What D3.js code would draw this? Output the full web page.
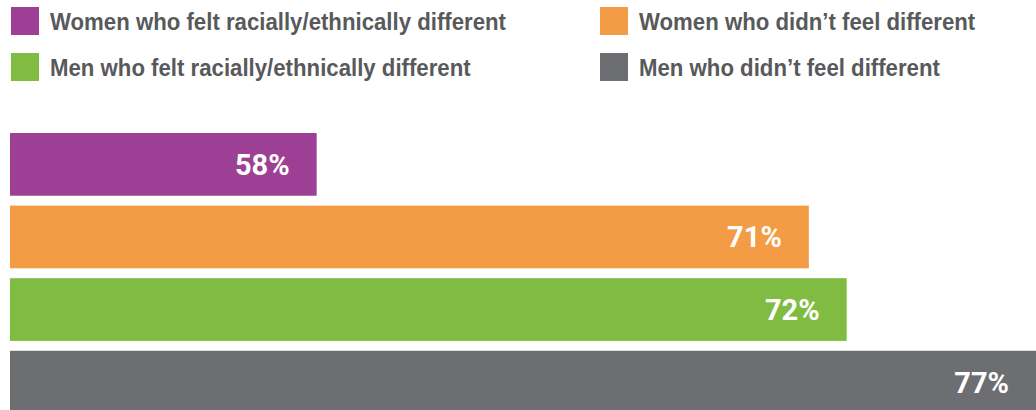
<!DOCTYPE html>
<html>
<head>
<meta charset="utf-8">
<script src="https://cdn.jsdelivr.net/npm/d3@7"></script>
<style>
  html, body { margin: 0; padding: 0; background: #fff; overflow: hidden; }
</style>
</head>
<body>
<div id="chart"></div>
<script>
// data
const groups = [
  "Women who felt racially/ethnically different",
  "Women who didn\u2019t feel different",
  "Men who felt racially/ethnically different",
  "Men who didn\u2019t feel different"
];
const values = [58, 71, 72, 77];
const colors = ["#9d3f94", "#f39c45", "#80bc41", "#6d6e71"];

const width = 1036;
const height = 410;

const svg = d3.select("#chart")
  .append("svg")
  .attr("width", width)
  .attr("height", height);

// scales - bars don't start at zero in the original, axis is cropped
const x = d3.scaleLinear()
  .domain([49.9, 77])
  .range([10, 1036]);

const y = d3.scaleBand()
  .domain(groups)
  .range([133, 413.5])
  .paddingInner(0.136)
  .paddingOuter(0);

// legend, two columns
const legendCols = [11, 600];
const legendRows = [7, 53];

const legend = svg.append("g").attr("class", "legend");
const item = legend.selectAll("g")
  .data(groups)
  .enter()
  .append("g")
  .attr("transform", (d, i) => `translate(${legendCols[i % 2]},${legendRows[Math.floor(i / 2)]})`);

item.append("rect")
  .attr("width", 28)
  .attr("height", 28)
  .attr("fill", (d, i) => colors[i]);

const legendText = item.append("text")
  .attr("x", 39)
  .attr("y", 23)
  .style("font-family", "'Liberation Sans', Arial, sans-serif")
  .style("font-weight", "bold")
  .style("font-size", "23.5px")
  .style("fill", "#58595b")
  .text(d => d);

// the original uses a condensed face, squeeze the text to match
const firstLen = legendText.node().getComputedTextLength();
const squeeze = 456 / firstLen;
legendText.each(function () {
  const len = this.getComputedTextLength();
  d3.select(this)
    .attr("textLength", len * squeeze)
    .attr("lengthAdjust", "spacingAndGlyphs");
});

// bars
svg.selectAll(".bar")
  .data(groups)
  .enter()
  .append("rect")
  .attr("class", "bar")
  .attr("x", x(49.9))
  .attr("y", d => y(d))
  .attr("width", (d, i) => x(values[i]) - x(49.9))
  .attr("height", y.bandwidth())
  .attr("fill", (d, i) => colors[i]);

// value labels inside bar end
svg.selectAll(".label")
  .data(groups)
  .enter()
  .append("text")
  .attr("class", "label")
  .attr("x", (d, i) => x(values[i]) - 27)
  .attr("y", d => y(d) + y.bandwidth() / 2)
  .attr("dy", "0.36em")
  .attr("text-anchor", "end")
  .style("font-family", "Roboto, 'Liberation Sans', sans-serif")
  .style("font-weight", "bold")
  .style("font-size", "29px")
  .style("fill", "#fff")
  .text((d, i) => values[i] + "%");
</script>
</body>
</html>
